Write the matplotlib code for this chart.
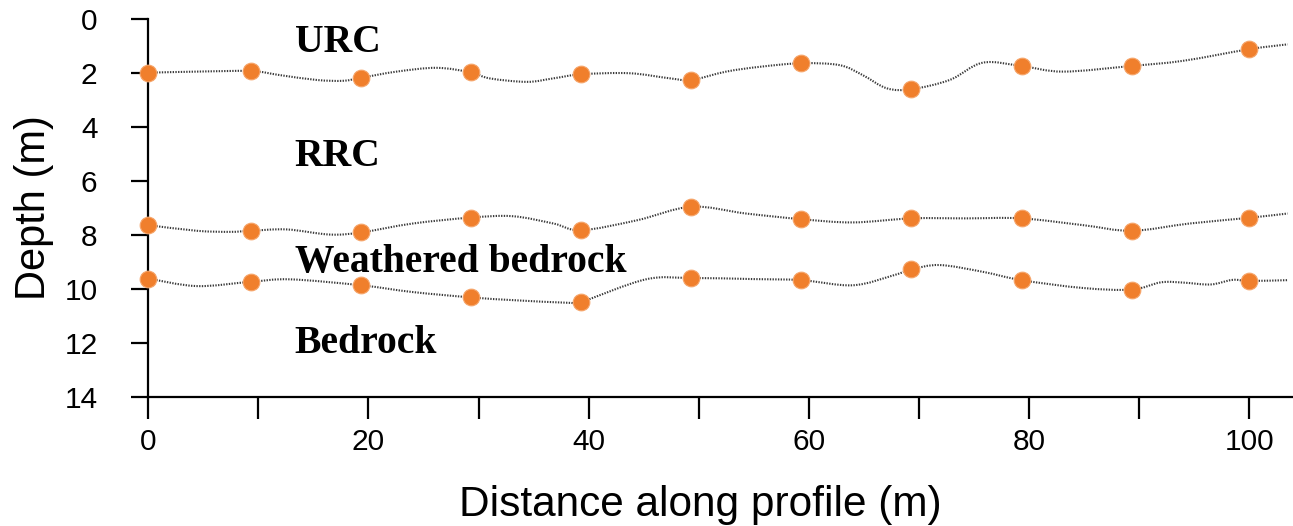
import matplotlib
matplotlib.use("Agg")
import matplotlib.pyplot as plt
from matplotlib.path import Path
from matplotlib.patches import PathPatch
import numpy as np

# ---------------- data ----------------
station_x = [0, 9.33, 19.33, 29.33, 39.33, 49.33, 59.33, 69.33, 79.33, 89.33, 100]
urc_depth = [1.99, 1.93, 2.18, 1.98, 2.05, 2.26, 1.64, 2.60, 1.74, 1.74, 1.12]
rrc_depth = [7.64, 7.85, 7.91, 7.36, 7.83, 6.96, 7.42, 7.39, 7.39, 7.85, 7.37]
wb_depth = [9.62, 9.74, 9.87, 10.32, 10.49, 9.60, 9.68, 9.28, 9.68, 10.03, 9.71]

# traced boundary curves
urc_curve_x = [0, 4.4, 9.33, 11.96, 15.3, 17.7, 19.33, 22.56, 26.2, 29.33, 31.0, 34.4,
               36.8, 39.33, 43.7, 47.4, 49.33, 52.5, 55.6, 59.33, 62.8, 64.9, 67.1,
               69.33, 72.8, 75.8, 79.33, 83.1, 89.33, 94.0, 100, 103.5]
urc_curve_y = [1.99, 1.95, 1.93, 2.08, 2.26, 2.29, 2.18, 1.95, 1.81, 1.98, 2.20, 2.33,
               2.20, 2.05, 2.01, 2.20, 2.26, 1.95, 1.77, 1.64, 1.71, 2.08, 2.57,
               2.60, 2.26, 1.62, 1.74, 1.95, 1.74, 1.55, 1.12, 0.94]

rrc_curve_x = [0, 4.4, 7.42, 9.33, 12.58, 16.5, 19.33, 24.04, 29.33, 33.1, 36.8, 39.33,
               44.4, 49.33, 54.3, 59.33, 64.0, 69.33, 74.3, 79.33, 84.9, 89.33, 94.6,
               100, 103.5]
rrc_curve_y = [7.64, 7.85, 7.89, 7.85, 7.80, 7.99, 7.91, 7.58, 7.36, 7.31, 7.58, 7.83,
               7.46, 6.96, 7.21, 7.42, 7.54, 7.39, 7.39, 7.39, 7.64, 7.85, 7.58,
               7.37, 7.21]

wb_curve_x = [0, 4.4, 9.33, 12.9, 19.33, 24.0, 29.33, 33.1, 38.2, 39.33, 45.2, 49.33,
              54.9, 59.33, 64.0, 67.7, 69.33, 71.9, 75.8, 79.33, 84.9, 89.33, 92.0,
              94.0, 96.5, 98.5, 100, 103.5]
wb_curve_y = [9.62, 9.90, 9.74, 9.65, 9.87, 10.12, 10.32, 10.42, 10.52, 10.49, 9.65, 9.60,
              9.64, 9.68, 9.87, 9.50, 9.28, 9.12, 9.37, 9.68, 9.97, 10.03, 9.76,
              9.77, 9.84, 9.67, 9.71, 9.68]

layer_names = ["URC", "RRC", "Weathered bedrock", "Bedrock"]
layer_label_x = 13.3
layer_label_y = [1.21, 5.45, 9.37, 12.39]

x_ticks = list(range(0, 101, 10))
x_ticklabels = [str(t) if t % 20 == 0 else "" for t in x_ticks]
y_ticks = list(range(0, 15, 2))

# ---------------- plotting ----------------
plt.rcParams['font.family'] = ['Liberation Sans', 'DejaVu Sans']

fig = plt.figure(figsize=(12.93, 5.26), dpi=100)
ax = fig.add_axes([148.3 / 1293, 1 - 396.7 / 526, (1292 - 148.3) / 1293, (396.7 - 19) / 526])


def smooth_path(xs, ys):
    pts = np.column_stack([xs, ys]).astype(float)
    n = len(pts)
    verts = [pts[0]]
    codes = [Path.MOVETO]
    for i in range(n - 1):
        p0 = pts[i - 1] if i > 0 else pts[i]
        p1 = pts[i]
        p2 = pts[i + 1]
        p3 = pts[i + 2] if i + 2 < n else pts[i + 1]
        c1 = p1 + (p2 - p0) / 6.0
        c2 = p2 - (p3 - p1) / 6.0
        verts += [c1, c2, p2]
        codes += [Path.CURVE4] * 3
    return Path(verts, codes)


for cx, cy in [(urc_curve_x, urc_curve_y), (rrc_curve_x, rrc_curve_y), (wb_curve_x, wb_curve_y)]:
    patch = PathPatch(smooth_path(cx, cy), fill=False, edgecolor='#3a3a3a',
                      linewidth=1.5, linestyle=(0, (0.65, 0.65)), zorder=2)
    ax.add_patch(patch)

for depths in [urc_depth, rrc_depth, wb_depth]:
    ax.plot(station_x, depths, linestyle='none', marker='o', markersize=12,
            markerfacecolor='#F07F2C', markeredgecolor='#F6A56A', markeredgewidth=0.8,
            zorder=5, clip_on=False)

for name, ly in zip(layer_names, layer_label_y):
    ax.text(layer_label_x, ly, name, fontsize=28.5, fontweight='bold',
            family=['Liberation Serif', 'DejaVu Serif'], ha='left', va='baseline')

ax.set_xlim(0, 103.9)
ax.set_ylim(14, 0)
ax.set_xticks(x_ticks)
ax.set_xticklabels(x_ticklabels)
ax.set_yticks(y_ticks)

ax.spines['top'].set_visible(False)
ax.spines['right'].set_visible(False)
for s in ['left', 'bottom']:
    ax.spines[s].set_linewidth(1.6)
    ax.spines[s].set_zorder(3)

ax.tick_params(axis='x', direction='out', length=15.5, width=1.6, labelsize=21.5, pad=7)
ax.tick_params(axis='y', direction='out', length=12.5, width=1.6, labelsize=21.5, pad=24)

ax.set_xlabel("Distance along profile (m)", fontsize=30.5)
ax.xaxis.set_label_coords(0.483, -0.235)
ax.set_ylabel("Depth (m)", fontsize=30)
ax.yaxis.set_label_coords(-0.0825, 0.5)

fig.savefig("out.png", dpi=100)
